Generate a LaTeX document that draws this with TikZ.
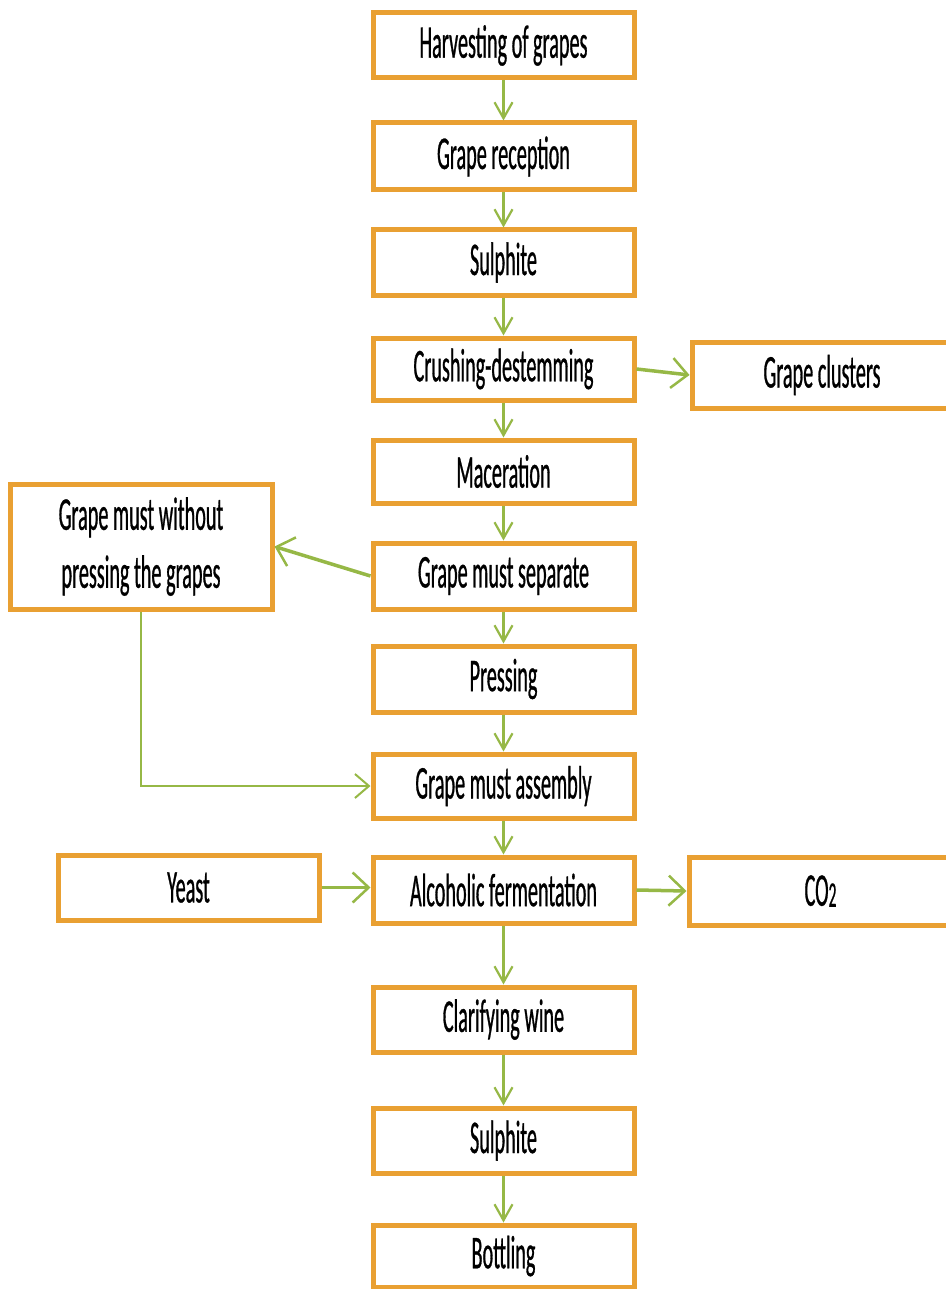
\documentclass[tikz,border=0pt]{standalone}
\usepackage{fontspec}
\setmainfont{Carlito}[FakeStretch=0.43,FakeBold=0.6]
\usetikzlibrary{arrows.meta}
\definecolor{boxorange}{RGB}{233,160,50}
\definecolor{arrgreen}{RGB}{150,184,70}
\begin{document}
\begin{tikzpicture}[x=1pt,y=-1pt,
  stepbox/.style={draw=boxorange, line width=5pt, fill=white, inner sep=0pt,
    minimum width=261pt, font=\fontsize{47}{58}\selectfont, align=center},
  arr/.style={draw=arrgreen, line width=2.2pt, -{Straight Barb[length=16pt,width=18pt,line width=2.2pt]}},
  sidearr/.style={draw=arrgreen, line width=3.5pt, -{Straight Barb[length=16pt,width=30pt,line width=2.5pt]}},
  thinarr/.style={draw=arrgreen, line width=2pt, -{Straight Barb[length=14pt,width=24pt,line width=2pt]}}
]
\useasboundingbox (0,0) rectangle (945,1289);
\fill[white] (0,0) rectangle (945,1289);
% main column
\node[stepbox, minimum height=65pt] (n1) at (503.5,45.5) {Harvesting of grapes};
\node[stepbox, minimum height=67pt] (n2) at (503.5,156.5) {Grape reception};
\node[stepbox, minimum height=65pt] (n3) at (503.5,262.5) {Sulphite};
\node[stepbox, minimum height=62pt] (n4) at (503.5,369) {Crushing-destemming};
\node[stepbox, minimum height=63pt] (n5) at (503.5,471.5) {Maceration};
\node[stepbox, minimum height=66pt] (n6) at (503.5,576) {Grape must separate};
\node[stepbox, minimum height=66pt] (n7) at (503.5,679) {Pressing};
\node[stepbox, minimum height=64pt] (n8) at (503.5,786) {Grape must assembly};
\node[stepbox, minimum height=66pt] (n9) at (503.5,890) {Alcoholic fermentation};
\node[stepbox, minimum height=65pt] (n10) at (503.5,1019.5) {Clarifying wine};
\node[stepbox, minimum height=65pt] (n11) at (503.5,1140.5) {Sulphite};
\node[stepbox, minimum height=62pt] (n12) at (503.5,1256) {Bottling};
% side boxes
\node[stepbox, minimum width=268pt, minimum height=66pt] (gc) at (826,375) {\hspace*{-8pt}Grape clusters};
\node[stepbox, minimum width=262pt, minimum height=125pt] (wo) at (141,546.5) {Grape must without\\pressing the grapes};
\node[stepbox, minimum width=261pt, minimum height=65pt] (ye) at (188.5,887.5) {Yeast};
\node[stepbox, minimum width=271pt, minimum height=68pt] (co) at (824.5,891) {\hspace*{-8pt}CO\raisebox{-1pt}{\fontsize{36}{36}\selectfont 2}};
% connectors
\draw[arr] (n1.south) -- (n2.north);
\draw[arr] (n2.south) -- (n3.north);
\draw[arr] (n3.south) -- (n4.north);
\draw[arr] (n4.south) -- (n5.north);
\draw[arr] (n5.south) -- (n6.north);
\draw[arr] (n6.south) -- (n7.north);
\draw[arr] (n7.south) -- (n8.north);
\draw[arr] (n8.south) -- (n9.north);
\draw[arr] (n9.south) -- (n10.north);
\draw[arr] (n10.south) -- (n11.north);
\draw[arr] (n11.south) -- (n12.north);
\draw[sidearr] (n4.east) -- (gc.west);
\draw[sidearr] (n6.west) -- (wo.east);
\draw[thinarr] (wo.south) |- (n8.west);
\draw[sidearr] (ye.east) -- (ye.east -| n9.west);
\draw[sidearr] (n9.east) -- (co.west);
\end{tikzpicture}
\end{document}
